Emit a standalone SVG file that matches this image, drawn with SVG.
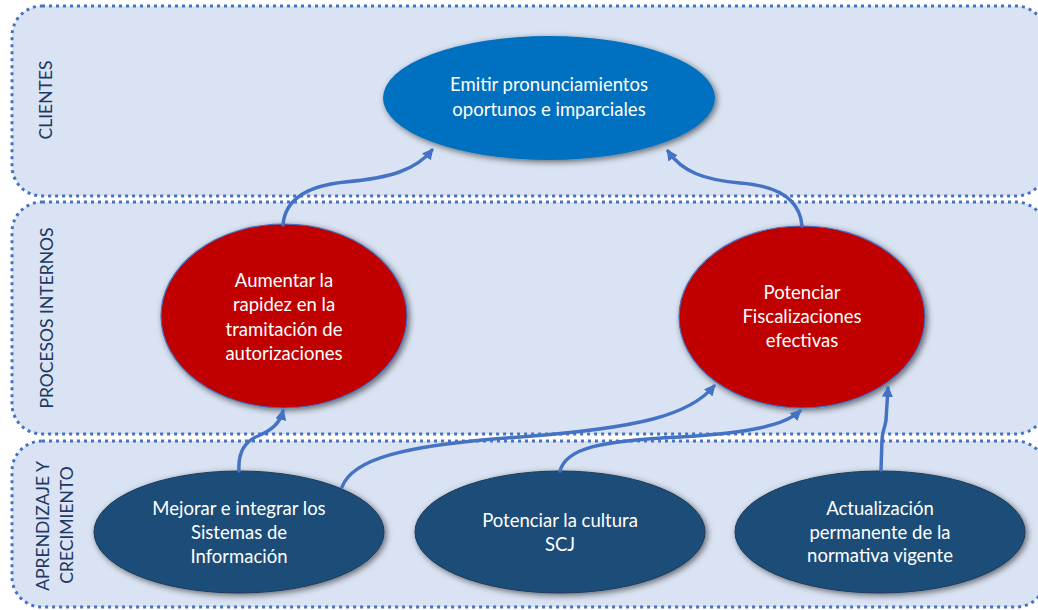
<svg xmlns="http://www.w3.org/2000/svg" width="1038" height="610" viewBox="0 0 1038 610">
  <defs>
    <style>
      .band { fill: #dae3f3; stroke: #4472c4; stroke-width: 3; stroke-dasharray: 3 4; }
      .band-label { font-family: Lato, "Liberation Sans", sans-serif; font-size: 17.5px; fill: #203864; text-anchor: middle; }
      .node-text { font-family: Lato, "Liberation Sans", sans-serif; font-size: 18.5px; fill: #ffffff; text-anchor: middle; }
      .goal { fill: #0070c0; }
      .process { fill: #c00000; stroke: #4472c4; stroke-width: 1.2; }
      .learning { fill: #1f4e79; stroke: #1a3a5c; stroke-width: 1; }
      .link { fill: none; stroke: #4472c4; stroke-width: 3.5; stroke-linecap: round; marker-end: url(#arrow); }
    </style>
    <filter id="shadow" x="-20%" y="-20%" width="140%" height="140%">
      <feDropShadow dx="2" dy="2" stdDeviation="3" flood-color="#000000" flood-opacity="0.55"/>
    </filter>
    <marker id="arrow" viewBox="0 0 10 10" refX="8" refY="5" markerWidth="3.2" markerHeight="3.2" orient="auto">
      <path d="M0,0 L10,5 L0,10 z" fill="#4472c4"/>
    </marker>
  </defs>

  <rect width="1038" height="610" fill="#ffffff"/>

  <!-- perspective bands -->
  <g id="band-clientes">
    <rect class="band" x="12" y="6" width="1034" height="190" rx="30" ry="30"/>
    <text class="band-label" transform="translate(52,100) rotate(-90)">CLIENTES</text>
  </g>
  <g id="band-procesos">
    <rect class="band" x="12" y="202" width="1034" height="232" rx="30" ry="30"/>
    <text class="band-label" transform="translate(53,318) rotate(-90)">PROCESOS INTERNOS</text>
  </g>
  <g id="band-aprendizaje">
    <rect class="band" x="12" y="441" width="1034" height="166" rx="30" ry="30"/>
    <text class="band-label" transform="translate(49,526) rotate(-90)">APRENDIZAJE Y</text>
    <text class="band-label" transform="translate(73,525) rotate(-90)">CRECIMIENTO</text>
  </g>

  <!-- objectives -->
  <g id="node-emitir">
    <ellipse class="goal" cx="549" cy="98" rx="166" ry="62" filter="url(#shadow)"/>
    <text class="node-text" x="549" y="91">Emitir pronunciamientos</text>
    <text class="node-text" x="549" y="115.5">oportunos e imparciales</text>
  </g>

  <g id="node-rapidez">
    <ellipse class="process" cx="284" cy="316" rx="123" ry="92" filter="url(#shadow)"/>
    <text class="node-text" x="284" y="287">Aumentar la</text>
    <text class="node-text" x="284" y="311">rapidez en la</text>
    <text class="node-text" x="284" y="335.5">tramitación de</text>
    <text class="node-text" x="284" y="360">autorizaciones</text>
  </g>

  <g id="node-fiscalizaciones">
    <ellipse class="process" cx="802" cy="317" rx="123" ry="91" filter="url(#shadow)"/>
    <text class="node-text" x="802" y="299">Potenciar</text>
    <text class="node-text" x="802" y="323">Fiscalizaciones</text>
    <text class="node-text" x="802" y="347">efectivas</text>
  </g>

  <g id="node-sistemas">
    <ellipse class="learning" cx="239" cy="532" rx="145" ry="61" filter="url(#shadow)"/>
    <text class="node-text" x="239" y="515">Mejorar e integrar los</text>
    <text class="node-text" x="239" y="539">Sistemas de</text>
    <text class="node-text" x="239" y="563">Información</text>
  </g>

  <g id="node-cultura">
    <ellipse class="learning" cx="560" cy="532" rx="145" ry="61" filter="url(#shadow)"/>
    <text class="node-text" x="560" y="527">Potenciar la cultura</text>
    <text class="node-text" x="560" y="551">SCJ</text>
  </g>

  <g id="node-normativa">
    <ellipse class="learning" cx="880" cy="532" rx="145" ry="61" filter="url(#shadow)"/>
    <text class="node-text" x="880" y="515">Actualización</text>
    <text class="node-text" x="880" y="539">permanente de la</text>
    <text class="node-text" x="880" y="562">normativa vigente</text>
  </g>

  <!-- cause-effect links -->
  <g id="connectors">
    <path class="link" d="M283,225 C285,200 305,186 345,182 C390,178 416,170 432,150"/>
    <path class="link" d="M802,226 C800,200 780,186 740,183 C705,180 682,172 668,151"/>
    <path class="link" d="M239,471 C238,455 243,442 258,436 C272,430 280,423 283,411"/>
    <path class="link" d="M342,487 C352,460 400,445 520,437 C640,428 690,415 714,386"/>
    <path class="link" d="M560,471 C566,448 600,441 680,437 C750,433 785,425 800,411"/>
    <path class="link" d="M881,470 L882,440 C882,432 885,428 886,420 L888,388"/>
  </g>
</svg>
